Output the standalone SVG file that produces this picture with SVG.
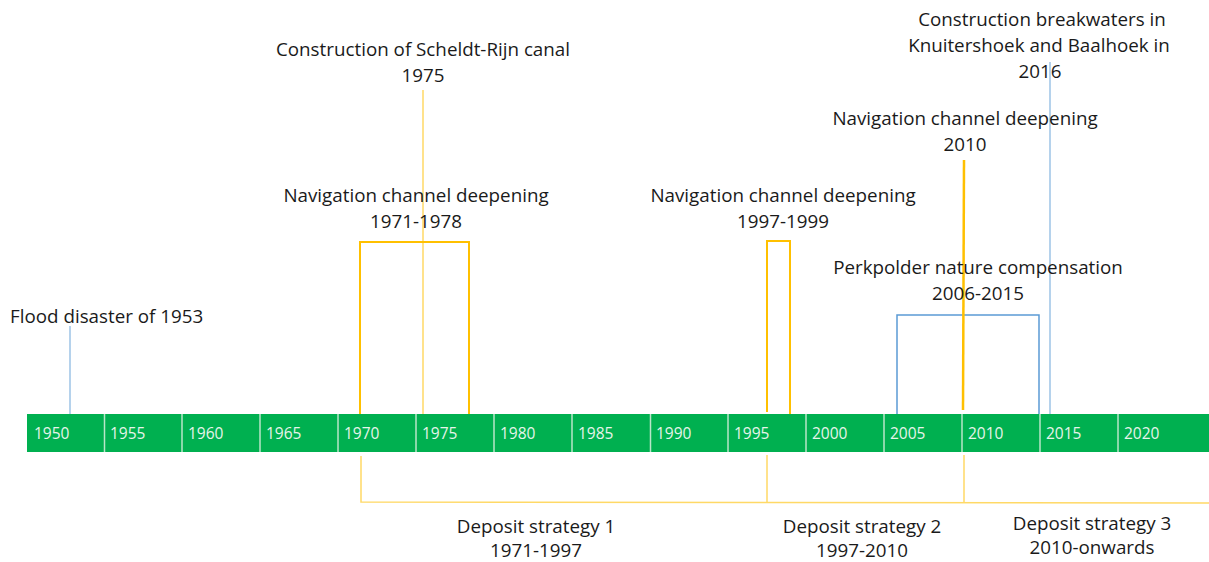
<svg xmlns="http://www.w3.org/2000/svg" width="1209" height="562" viewBox="0 0 1209 562">
<style>
.lbl{font-family:"Open Sans","Liberation Sans",Arial,sans-serif;font-size:18.8px;fill:#1a1a1a;text-anchor:middle}
.yr{font-family:"Open Sans","Liberation Sans",Arial,sans-serif;font-size:15.5px;fill:#e6f4ea}
.div{stroke:#b8e6c8;stroke-width:1.5}
.or{fill:none;stroke:#FFC000;stroke-width:2}
.orl{fill:none;stroke:#FFD966;stroke-width:1.5}
.bl{fill:none;stroke:#5B9BD5;stroke-width:1.5}
.bll{fill:none;stroke:#9DC3E6;stroke-width:1.5}
</style>
<rect width="1209" height="562" fill="#ffffff"/>
<g id="timeline">
<rect x="27" y="414" width="1182" height="38" fill="#00B050"/>
<g class="div">
<line x1="104.5" y1="414" x2="104.5" y2="452"/>
<line x1="182" y1="414" x2="182" y2="452"/>
<line x1="260" y1="414" x2="260" y2="452"/>
<line x1="338" y1="414" x2="338" y2="452"/>
<line x1="416" y1="414" x2="416" y2="452"/>
<line x1="494" y1="414" x2="494" y2="452"/>
<line x1="572" y1="414" x2="572" y2="452"/>
<line x1="650.5" y1="414" x2="650.5" y2="452"/>
<line x1="728" y1="414" x2="728" y2="452"/>
<line x1="806" y1="414" x2="806" y2="452"/>
<line x1="884" y1="414" x2="884" y2="452"/>
<line x1="962" y1="414" x2="962" y2="452"/>
<line x1="1040" y1="414" x2="1040" y2="452"/>
<line x1="1118" y1="414" x2="1118" y2="452"/>
</g>
<g class="yr">
<text x="34" y="439">1950</text>
<text x="110" y="439">1955</text>
<text x="188" y="439">1960</text>
<text x="266" y="439">1965</text>
<text x="344" y="439">1970</text>
<text x="422" y="439">1975</text>
<text x="500" y="439">1980</text>
<text x="578" y="439">1985</text>
<text x="656" y="439">1990</text>
<text x="734" y="439">1995</text>
<text x="812" y="439">2000</text>
<text x="890" y="439">2005</text>
<text x="968" y="439">2010</text>
<text x="1046" y="439">2015</text>
<text x="1124" y="439">2020</text>
</g>
</g>
<g id="connectors">
<line class="bll" x1="70" y1="326" x2="70" y2="414"/>
<line class="orl" x1="423" y1="90" x2="423" y2="414"/>
<polyline class="or" points="360,414 360,242 469,242 469,414"/>
<polyline class="or" points="767,412 767,241 790,241 790,414"/>
<polyline class="bl" points="897,414 897,315 1039,315 1039,414"/>
<line stroke="#FFC000" stroke-width="2.5" x1="964" y1="160" x2="963" y2="410"/>
<line class="bll" x1="1050" y1="62" x2="1050" y2="414"/>
<polyline class="orl" points="361,456 361,502 1209,503"/>
<line class="orl" x1="767" y1="455" x2="767" y2="502"/>
<line class="orl" x1="964" y1="455" x2="964" y2="502"/>
</g>
<g id="flood"><text class="lbl" x="10" y="323" style="text-anchor:start">Flood disaster of 1953</text></g>
<g id="scheldt"><text class="lbl" x="423" y="56">Construction of Scheldt-Rijn canal</text><text class="lbl" x="423" y="82">1975</text></g>
<g id="nav1971"><text class="lbl" x="416" y="202">Navigation channel deepening</text><text class="lbl" x="416" y="228">1971-1978</text></g>
<g id="nav1997"><text class="lbl" x="783" y="202">Navigation channel deepening</text><text class="lbl" x="783" y="228">1997-1999</text></g>
<g id="perkpolder"><text class="lbl" x="978" y="274">Perkpolder nature compensation</text><text class="lbl" x="978" y="300">2006-2015</text></g>
<g id="nav2010"><text class="lbl" x="965" y="125">Navigation channel deepening</text><text class="lbl" x="965" y="151">2010</text></g>
<g id="breakwaters"><text class="lbl" x="1042" y="26">Construction breakwaters in</text><text class="lbl" x="1039" y="52">Knuitershoek and Baalhoek in</text><text class="lbl" x="1040" y="78">2016</text></g>
<g id="deposit1"><text class="lbl" x="536" y="533">Deposit strategy 1</text><text class="lbl" x="536" y="557">1971-1997</text></g>
<g id="deposit2"><text class="lbl" x="862" y="533">Deposit strategy 2</text><text class="lbl" x="862" y="557">1997-2010</text></g>
<g id="deposit3"><text class="lbl" x="1092" y="530">Deposit strategy 3</text><text class="lbl" x="1092" y="554">2010-onwards</text></g>
</svg>
